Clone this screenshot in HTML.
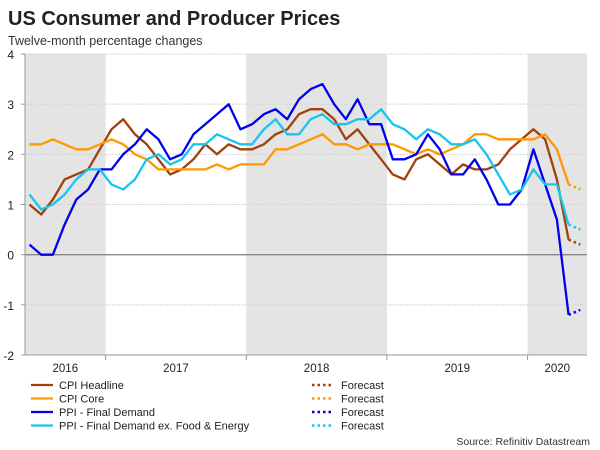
<!DOCTYPE html>
<html><head><meta charset="utf-8">
<style>
body{margin:0;background:#fff;font-family:"Liberation Sans",Arial,sans-serif;}
svg{display:block}
</style></head>
<body>
<svg id="chart" width="600" height="450">
<text x="8" y="25" font-size="20" font-weight="bold" fill="#222">US Consumer and Producer Prices</text>
<text x="8" y="45" font-size="12.5" fill="#333">Twelve-month percentage changes</text>
<g id="bands"></g><g id="grid"></g><g id="series"></g><g id="axes"></g><g id="legend"></g>
<text x="590" y="445" font-size="10.5" fill="#333" text-anchor="end">Source: Refinitiv Datastream</text>
</svg>
<script>
// months indexed from Jan 2016 = 0; data starts Jun 2016 (5)
const startMonth = 5;
const yearLabels = ["2016","2017","2018","2019","2020"];
const yTicks = [-2,-1,0,1,2,3,4];
const cpiHeadline = [1.0,0.8,1.1,1.5,1.6,1.7,2.1,2.5,2.7,2.4,2.2,1.9,1.6,1.7,1.9,2.2,2.0,2.2,2.1,2.1,2.2,2.4,2.5,2.8,2.9,2.9,2.7,2.3,2.5,2.2,1.9,1.6,1.5,1.9,2.0,1.8,1.6,1.8,1.7,1.7,1.8,2.1,2.3,2.5,2.3,1.5,0.3];
const cpiCore = [2.2,2.2,2.3,2.2,2.1,2.1,2.2,2.3,2.2,2.0,1.9,1.7,1.7,1.7,1.7,1.7,1.8,1.7,1.8,1.8,1.8,2.1,2.1,2.2,2.3,2.4,2.2,2.2,2.1,2.2,2.2,2.2,2.1,2.0,2.1,2.0,2.1,2.2,2.4,2.4,2.3,2.3,2.3,2.3,2.4,2.1,1.4];
const ppiFinal = [0.2,0.0,0.0,0.6,1.1,1.3,1.7,1.7,2.0,2.2,2.5,2.3,1.9,2.0,2.4,2.6,2.8,3.0,2.5,2.6,2.8,2.9,2.7,3.1,3.3,3.4,3.0,2.7,3.1,2.6,2.6,1.9,1.9,2.0,2.4,2.1,1.6,1.6,1.9,1.5,1.0,1.0,1.3,2.1,1.4,0.7,-1.2];
const ppiCore = [1.2,0.9,1.0,1.2,1.5,1.7,1.7,1.4,1.3,1.5,1.9,2.0,1.8,1.9,2.2,2.2,2.4,2.3,2.2,2.2,2.5,2.7,2.4,2.4,2.7,2.8,2.6,2.6,2.7,2.7,2.9,2.6,2.5,2.3,2.5,2.4,2.2,2.2,2.3,2.0,1.6,1.2,1.3,1.7,1.4,1.4,0.6];
const forecasts = [0.2,1.3,-1.1,0.5];

const L=25,R=587,T=54,B=355,yMin=-2,yMax=4,m0=-35,mW=11.72;
const xS=m=>m0+(m+0.5)*mW;
const yS=v=>B-(v-yMin)/(yMax-yMin)*(B-T);
const NS="http://www.w3.org/2000/svg";
function mk(tag,attrs,parent){const e=document.createElementNS(NS,tag);for(const k in attrs)e.setAttribute(k,attrs[k]);parent.appendChild(e);return e;}
const bands=document.getElementById('bands'),grid=document.getElementById('grid'),ser=document.getElementById('series'),ax=document.getElementById('axes'),leg=document.getElementById('legend');
yearLabels.forEach((y,i)=>{
  const x0=Math.max(L,m0+i*12*mW),x1=Math.min(R,m0+(i+1)*12*mW);
  if(i%2===0){const r=mk('rect',{x:x0,y:T,width:x1-x0,height:B-T,fill:'#e4e4e4'},bands);
    
    }
  const t=mk('text',{x:(x0+x1)/2,y:372,'font-size':11.5,fill:'#222','text-anchor':'middle'},ax);t.textContent=y;
  
  
  if(i>0){mk('line',{x1:x0,x2:x0,y1:B,y2:B+5,stroke:'#999'},ax);}
});
yTicks.forEach(v=>{
  const y=yS(v);
  const g=mk('line',{x1:L,x2:R,y1:y,y2:y,stroke:v===0?'#888':'#d4d4d4','stroke-width':v===0?1.3:1,'stroke-dasharray':v===0?'':'2,1'},grid);
  
  
  mk('line',{x1:L-4,x2:L,y1:y,y2:y,stroke:'#999'},ax);
  const t=mk('text',{x:14,y:y+5,'font-size':12,fill:'#222','text-anchor':'end'},ax);t.textContent=v;
  
  
});
mk('line',{x1:L,x2:L,y1:T,y2:B,stroke:'#999'},ax);
mk('line',{x1:L,x2:R,y1:B,y2:B,stroke:'#999'},ax);
const series=[[cpiHeadline,'#a0400a','CPI Headline'],[cpiCore,'#ff9900','CPI Core'],[ppiFinal,'#0000ee','PPI - Final Demand'],[ppiCore,'#16c4f0','PPI - Final Demand ex. Food & Energy']];
series.forEach(([d,c,name],i)=>{
  const pts=d.map((v,k)=>xS(startMonth+k).toFixed(1)+','+yS(v).toFixed(1)).join(' ');
  const p=mk('polyline',{points:pts,fill:'none',stroke:c,'stroke-width':2.3,'stroke-linejoin':'round'},ser);
  
  
  const lm=startMonth+d.length-1;
  const f=mk('line',{x1:xS(lm),y1:yS(d[d.length-1]),x2:xS(lm+1),y2:yS(forecasts[i]),stroke:c,'stroke-width':2.5,'stroke-dasharray':'2.5,3'},ser);
  
  
  const ly=385+i*13.5;
  mk('line',{x1:31,x2:53,y1:ly,y2:ly,stroke:c,'stroke-width':2.3},leg);
  const t=mk('text',{x:59,y:ly+4,'font-size':11,fill:'#222'},leg);t.textContent=name;
  
  
  mk('line',{x1:312,x2:333,y1:ly,y2:ly,stroke:c,'stroke-width':2.5,'stroke-dasharray':'2.5,3'},leg);
  const t2=mk('text',{x:341,y:ly+4,'font-size':11,fill:'#222'},leg);t2.textContent='Forecast';
  
  
});
</script>
</body></html>
